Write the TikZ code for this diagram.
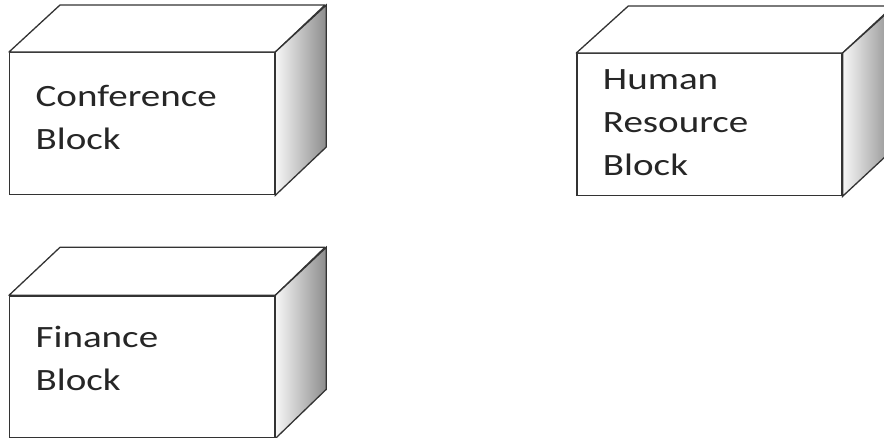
\documentclass[tikz,border=0pt]{standalone}
\usepackage{fontspec}
\setmainfont{Carlito}[FakeStretch=1.26]
\usepackage{tikz}
\usetikzlibrary{positioning}
\tikzstyle{block} = [rectangle, draw, fill=white, line width=1.3pt, minimum width=265pt, minimum height=142pt, text width=213pt, inner xsep=0pt, align=left, font=\fontsize{31}{43}\selectfont, text=black!85]
\tikzstyle{side} = [left color=black!3, right color=black!45, draw, line width=1.3pt]
\tikzstyle{lid} = [fill=white, draw, line width=1.3pt, line join=round]

\begin{document}
\begin{tikzpicture}[x=1pt,y=-1pt,node distance=100pt,draw=black!80]
  \useasboundingbox (0,0) rectangle (884,437);
  \node[block, anchor=north west, text depth=56pt] (conf) at (9,52) {Conference\\Block};
  \node[block, text depth=90pt] (hr) [right=301pt of conf.east, anchor=west, yshift=-1pt] {Human\\Resource\\Block};
  \node[block, text depth=61pt] (fin) [below=of conf] {Finance\\Block};

  % lids and shaded sides
  \path[lid] (conf.north west) -- ++(51,-47) -- ++(265,0) -- (conf.north east) -- cycle;
  \path[side] (conf.north east) -- ++(51,-47) -- ++(0,142) -- (conf.south east) -- cycle;
  \path[lid] (hr.north west) -- ++(52,-47) -- ++(265,0) -- (hr.north east) -- cycle;
  \path[side] (hr.north east) -- ++(52,-47) -- ++(0,142) -- (hr.south east) -- cycle;
  \path[lid] (fin.north west) -- ++(51,-48) -- ++(265,0) -- (fin.north east) -- cycle;
  \path[side] (fin.north east) -- ++(51,-48) -- ++(0,142) -- (fin.south east) -- cycle;
\end{tikzpicture}
\end{document}
